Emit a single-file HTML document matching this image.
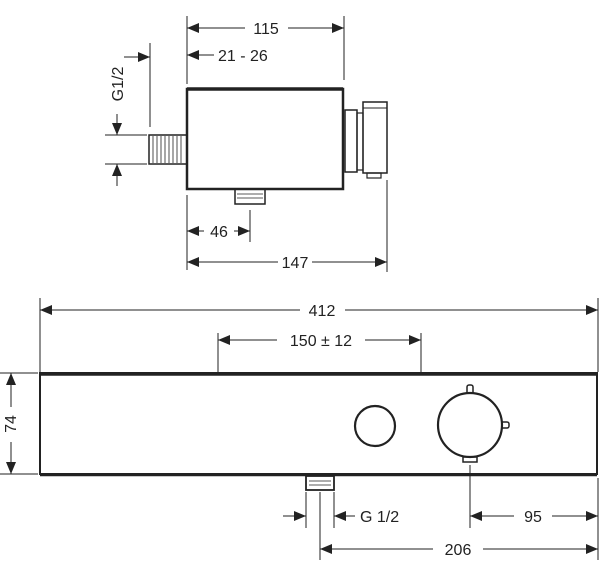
<!DOCTYPE html>
<html><head><meta charset="utf-8"><style>
html,body{margin:0;padding:0;background:#fff;}
svg{display:block;}
text{font-family:"Liberation Sans",sans-serif;font-size:16px;fill:#222;}
</style></head><body>
<svg width="600" height="570" viewBox="0 0 600 570" xmlns="http://www.w3.org/2000/svg">
<defs>
<marker id="a" viewBox="0 0 12 10" refX="12" refY="5" markerWidth="12" markerHeight="10" orient="auto-start-reverse" markerUnits="userSpaceOnUse"><path d="M0,0 L12,5 L0,10 Z" fill="#222"/></marker>
</defs>
<g stroke="#222" fill="none">
<rect x="187" y="89" width="156" height="100" stroke-width="2.5"/>
<line x1="187" y1="89" x2="343" y2="89" stroke-width="3.5"/>
<rect x="149" y="135" width="38" height="29" stroke-width="1.5"/>
<g stroke-width="0.8">
<line x1="153" y1="136" x2="153" y2="163"/><line x1="157" y1="136" x2="157" y2="163"/><line x1="161" y1="136" x2="161" y2="163"/><line x1="165" y1="136" x2="165" y2="163"/><line x1="169" y1="136" x2="169" y2="163"/><line x1="173" y1="136" x2="173" y2="163"/><line x1="177" y1="136" x2="177" y2="163"/><line x1="181" y1="136" x2="181" y2="163"/>
</g>
<rect x="345" y="110" width="12" height="62" stroke-width="1.5"/>
<rect x="357" y="113" width="6" height="57" stroke-width="1.2"/>
<rect x="363" y="102" width="24" height="71" stroke-width="1.5"/>
<line x1="363" y1="108" x2="387" y2="108" stroke-width="1"/>
<rect x="367" y="173" width="14" height="5" stroke-width="1.2"/>
<rect x="235" y="189" width="30" height="15" stroke-width="1.5"/>
<line x1="237" y1="194" x2="263" y2="194" stroke-width="0.7"/><line x1="237" y1="198" x2="263" y2="198" stroke-width="0.7"/>
<g stroke-width="1">
<line x1="187" y1="16" x2="187" y2="84"/>
<line x1="344" y1="16" x2="344" y2="80"/>
<line x1="150" y1="43" x2="150" y2="127"/>
<line x1="105" y1="135" x2="147" y2="135"/>
<line x1="105" y1="164" x2="147" y2="164"/>
<line x1="187" y1="195" x2="187" y2="270"/>
<line x1="250" y1="210" x2="250" y2="242"/>
<line x1="387" y1="180" x2="387" y2="272"/>
<line x1="187" y1="28" x2="245" y2="28" marker-start="url(#a)"/>
<line x1="288" y1="28" x2="344" y2="28" marker-end="url(#a)"/>
<line x1="187" y1="55" x2="214" y2="55" marker-start="url(#a)"/>
<line x1="124" y1="57" x2="150" y2="57" marker-end="url(#a)"/>
<line x1="117" y1="114" x2="117" y2="135" marker-end="url(#a)"/>
<line x1="117" y1="186" x2="117" y2="164" marker-end="url(#a)"/>
<line x1="187" y1="231" x2="204" y2="231" marker-start="url(#a)"/>
<line x1="234" y1="231" x2="250" y2="231" marker-end="url(#a)"/>
<line x1="187" y1="262" x2="278" y2="262" marker-start="url(#a)"/>
<line x1="312" y1="262" x2="387" y2="262" marker-end="url(#a)"/>
</g>
<rect x="40" y="373" width="557" height="101" stroke-width="2"/>
<line x1="40" y1="374" x2="597" y2="374" stroke-width="3.5"/>
<line x1="40" y1="475" x2="597" y2="475" stroke-width="2.5"/>
<circle cx="375" cy="426" r="20" stroke-width="2.2"/>
<rect x="467" y="385" width="6" height="9" rx="2" stroke-width="1.5" fill="#fff"/>
<rect x="500" y="422" width="9" height="6" rx="2" stroke-width="1.5" fill="#fff"/>
<rect x="463" y="457" width="14" height="5" stroke-width="1.5" fill="#fff"/>
<circle cx="470" cy="425" r="32" stroke-width="2.2" fill="#fff"/>
<rect x="306" y="476" width="28" height="14" stroke-width="1.8"/>
<line x1="309" y1="481" x2="331" y2="481" stroke-width="0.7"/><line x1="309" y1="485" x2="331" y2="485" stroke-width="0.7"/>
<g stroke-width="1">
<line x1="40" y1="298" x2="40" y2="372"/>
<line x1="598" y1="298" x2="598" y2="372"/>
<line x1="218" y1="333" x2="218" y2="372"/>
<line x1="421" y1="333" x2="421" y2="372"/>
<line x1="0" y1="373" x2="38" y2="373"/>
<line x1="0" y1="474" x2="38" y2="474"/>
<line x1="306" y1="492" x2="306" y2="528"/>
<line x1="334" y1="492" x2="334" y2="528"/>
<line x1="320" y1="492" x2="320" y2="560"/>
<line x1="470" y1="465" x2="470" y2="528"/>
<line x1="598" y1="478" x2="598" y2="560"/>
<line x1="40" y1="310" x2="300" y2="310" marker-start="url(#a)"/>
<line x1="345" y1="310" x2="598" y2="310" marker-end="url(#a)"/>
<line x1="218" y1="340" x2="277" y2="340" marker-start="url(#a)"/>
<line x1="365" y1="340" x2="421" y2="340" marker-end="url(#a)"/>
<line x1="11" y1="373" x2="11" y2="407" marker-start="url(#a)"/>
<line x1="11" y1="442" x2="11" y2="474" marker-end="url(#a)"/>
<line x1="283" y1="516" x2="306" y2="516" marker-end="url(#a)"/>
<line x1="355" y1="516" x2="334" y2="516" marker-end="url(#a)"/>
<line x1="470" y1="516" x2="514" y2="516" marker-start="url(#a)"/>
<line x1="552" y1="516" x2="598" y2="516" marker-end="url(#a)"/>
<line x1="320" y1="549" x2="433" y2="549" marker-start="url(#a)"/>
<line x1="483" y1="549" x2="598" y2="549" marker-end="url(#a)"/>
</g>
</g>
<text x="266" y="34" text-anchor="middle">115</text>
<text x="218" y="61">21 - 26</text>
<text x="0" y="0" transform="translate(123,84) rotate(-90)" text-anchor="middle">G1/2</text>
<text x="219" y="237" text-anchor="middle">46</text>
<text x="295" y="268" text-anchor="middle">147</text>
<text x="322" y="316" text-anchor="middle">412</text>
<text x="321" y="346" text-anchor="middle">150 ± 12</text>
<text x="0" y="0" transform="translate(16,424) rotate(-90)" text-anchor="middle">74</text>
<text x="360" y="522">G 1/2</text>
<text x="533" y="522" text-anchor="middle">95</text>
<text x="458" y="555" text-anchor="middle">206</text>
</svg>
</body></html>
